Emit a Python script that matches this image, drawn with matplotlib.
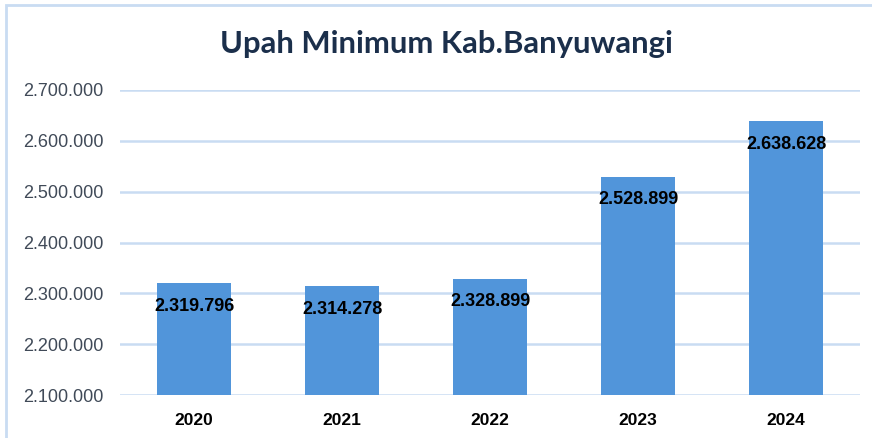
import matplotlib.pyplot as plt
from matplotlib.patches import Rectangle
from matplotlib.ticker import FuncFormatter

years = ['2020', '2021', '2022', '2023', '2024']
wages = [2319796, 2314278, 2328899, 2528899, 2638628]
yticks = [2100000, 2200000, 2300000, 2400000, 2500000, 2600000, 2700000]


def dotted(v, pos=None):
    '''Format number with dots as thousands separator'''
    return f'{int(round(v)):,}'.replace(',', '.')


plt.rcParams['font.family'] = ['Liberation Sans', 'DejaVu Sans']

fig = plt.figure(figsize=(8.72, 4.38), dpi=100)
ax = fig.add_axes([120 / 872, 1 - 395 / 438, 740 / 872, 305 / 438])

# chart frame
fig.patches.append(Rectangle((6 / 872, -0.1), 1.2, 1 - 5 / 438 + 0.1,
                             transform=fig.transFigure, fill=False,
                             edgecolor='#c9dcf2', lw=2))

bars = ax.bar(years, wages, width=0.5, color='#5195da', zorder=3)
ax.set_ylim(2100000, 2700000)
ax.set_xlim(-0.5, 4.5)
ax.set_yticks(yticks)
ax.yaxis.set_major_formatter(FuncFormatter(dotted))
ax.grid(axis='y', color='#c9dcf2', lw=1.8, zorder=0)

for b, v in zip(bars, wages):
    ax.annotate(dotted(v), (b.get_x() + b.get_width() / 2, v),
                xytext=(0, -23), textcoords='offset pixels',
                ha='center', va='center', fontsize=13, fontweight='bold',
                color='black', zorder=4)

for s in ax.spines.values():
    s.set_visible(False)
ax.tick_params(axis='both', length=0)
ax.tick_params(axis='y', labelsize=13, labelcolor='#404a58', pad=12)
ax.tick_params(axis='x', labelsize=12.5, pad=13)
for t in ax.get_xticklabels():
    t.set_fontweight('bold')

fig.text(446 / 872, 1 - 44 / 438, 'Upah Minimum Kab.Banyuwangi',
         ha='center', va='center', fontsize=22.3, fontweight='bold',
         color='#1b2f4b', family=['Lato', 'Liberation Sans'])

fig.savefig('out.png', dpi=100)
